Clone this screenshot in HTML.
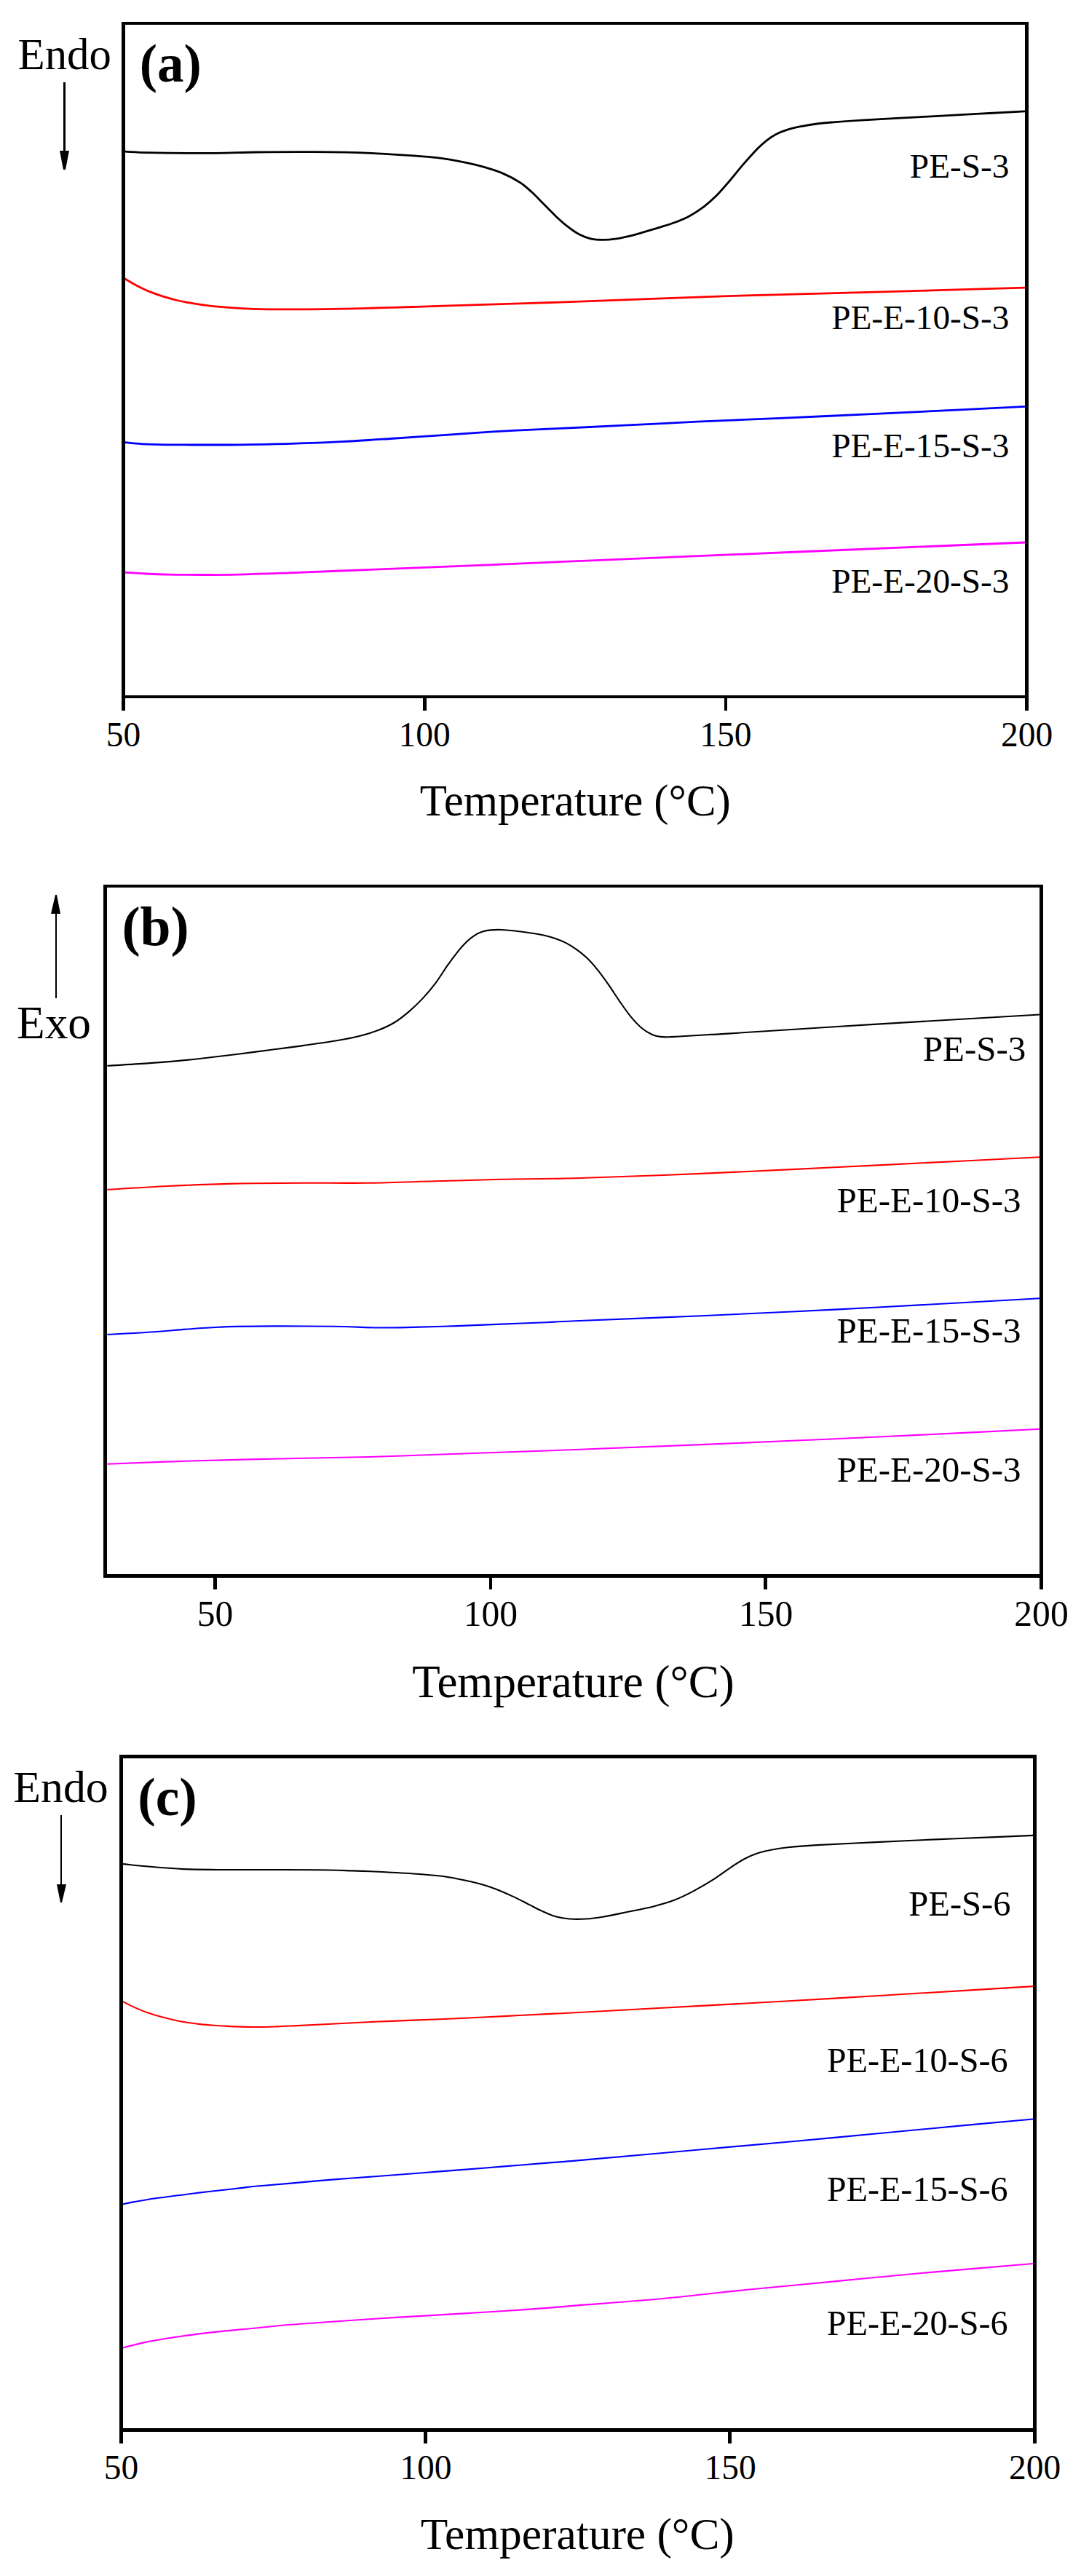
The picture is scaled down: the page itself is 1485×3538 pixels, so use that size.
<!DOCTYPE html>
<html><head><meta charset="utf-8"><title>DSC curves</title>
<style>
html,body{margin:0;padding:0;background:#fff}
svg{display:block}
text{font-family:"Liberation Serif",serif;fill:#000}
</style></head>
<body>
<svg width="1485" height="3538" viewBox="0 0 1485 3538">
<rect width="1485" height="3538" fill="#fff"/>
<path d="M172.0 208.2C176.7 208.4 190.3 209.3 200.0 209.6C209.7 209.9 214.0 210.1 230.0 210.2C246.0 210.3 275.3 210.5 296.0 210.3C316.7 210.1 331.3 209.3 354.0 209.0C376.7 208.7 406.1 208.5 432.0 208.7C457.9 208.9 488.4 209.5 509.7 210.3C531.0 211.1 544.8 212.3 560.0 213.4C575.2 214.5 587.1 215.0 600.7 216.7C614.3 218.4 630.5 221.4 641.4 223.6C652.2 225.8 657.7 227.3 665.8 229.7C673.9 232.1 682.1 234.4 690.2 237.9C698.4 241.4 707.9 246.5 714.7 250.9C721.5 255.3 725.6 259.4 731.0 264.3C736.4 269.2 741.8 275.2 747.2 280.6C752.6 286.0 758.1 291.8 763.5 296.9C768.9 302.0 774.4 306.9 779.8 311.1C785.2 315.3 790.6 319.2 796.0 322.1C801.4 325.0 806.9 327.0 812.3 328.2C817.7 329.4 823.2 329.4 828.6 329.4C834.0 329.4 838.8 329.1 844.9 328.2C851.0 327.3 858.5 325.7 865.3 324.1C872.1 322.5 878.8 320.4 885.6 318.4C892.4 316.4 899.2 314.4 906.0 312.3C912.8 310.2 919.5 308.4 926.3 305.8C933.1 303.2 939.9 300.6 946.7 296.9C953.5 293.2 960.9 288.4 967.0 283.8C973.1 279.2 977.7 275.1 983.3 269.6C988.9 264.1 994.2 257.8 1000.4 250.6C1006.6 243.4 1013.9 234.0 1020.7 226.2C1027.5 218.4 1035.6 209.4 1041.0 203.8C1046.4 198.2 1049.2 196.0 1053.3 192.8C1057.4 189.6 1060.8 187.1 1065.5 184.7C1070.2 182.2 1075.6 180.0 1081.7 178.1C1087.8 176.2 1095.2 174.7 1102.0 173.3C1108.8 172.0 1115.6 170.9 1122.4 170.0C1129.2 169.1 1132.6 168.8 1142.8 168.0C1153.0 167.2 1163.2 166.3 1183.5 165.1C1203.8 163.9 1237.8 162.1 1264.9 160.6C1292.0 159.1 1322.5 157.5 1346.3 156.2C1370.1 154.9 1397.7 153.4 1408.0 152.9" fill="none" stroke="#000" stroke-width="2.8" stroke-linejoin="round"/>
<path d="M170.2 382.0C173.1 383.7 181.8 389.1 187.8 392.2C193.8 395.3 200.1 398.4 206.3 400.9C212.5 403.4 218.6 405.5 224.8 407.4C231.0 409.3 237.1 411.0 243.3 412.5C249.5 414.0 255.6 415.1 261.8 416.2C268.0 417.3 274.1 418.2 280.3 419.0C286.5 419.8 292.6 420.6 298.8 421.2C305.0 421.8 311.1 422.3 317.3 422.7C323.5 423.1 328.9 423.5 335.8 423.8C342.7 424.1 349.0 424.4 358.9 424.6C368.8 424.8 380.7 424.9 395.0 424.9C409.3 424.9 429.8 424.9 444.9 424.7C460.0 424.5 472.0 424.2 485.6 423.9C499.2 423.6 512.7 423.1 526.3 422.7C539.9 422.3 554.7 421.9 567.0 421.5C579.3 421.1 562.8 421.6 600.0 420.4C637.2 419.2 723.4 416.7 790.0 414.4C856.6 412.1 931.0 408.8 999.6 406.6C1068.2 404.4 1133.5 403.1 1201.6 401.2C1269.7 399.3 1373.6 396.2 1408.0 395.2" fill="none" stroke="#ff0000" stroke-width="2.8" stroke-linejoin="round"/>
<path d="M170.7 607.5C174.8 607.9 185.9 609.2 195.5 609.8C205.1 610.3 214.4 610.6 228.5 610.8C242.6 611.0 262.9 611.0 280.0 611.0C297.1 611.0 311.2 611.1 331.1 610.8C351.0 610.5 376.8 610.1 399.6 609.4C422.4 608.7 445.2 607.9 468.0 606.7C490.8 605.6 513.7 604.0 536.5 602.5C559.3 601.0 582.2 599.3 605.0 597.8C627.8 596.2 650.6 594.6 673.4 593.2C696.2 591.8 719.1 590.7 741.9 589.6C764.7 588.5 783.9 587.8 810.3 586.5C836.6 585.2 875.5 583.3 900.0 582.1C924.5 580.9 918.4 581.0 957.6 579.2C996.8 577.4 1076.0 574.2 1135.2 571.5C1194.4 568.8 1267.4 565.4 1312.9 563.2C1358.4 561.0 1392.2 559.2 1408.0 558.4" fill="none" stroke="#0000ff" stroke-width="2.8" stroke-linejoin="round"/>
<path d="M170.7 786.2C174.8 786.5 185.4 787.2 195.5 787.7C205.6 788.2 217.2 788.9 231.0 789.2C244.8 789.5 262.6 789.5 278.4 789.5C294.2 789.5 306.1 789.7 325.8 789.2C345.5 788.8 365.2 788.0 396.8 786.8C428.4 785.6 475.7 783.7 515.2 782.1C554.7 780.5 586.1 779.4 633.6 777.4C681.1 775.4 670.9 775.7 800.0 770.3C929.1 764.9 1306.7 749.2 1408.0 745.0" fill="none" stroke="#ff00ff" stroke-width="2.8" stroke-linejoin="round"/>
<g fill="#000" shape-rendering="crispEdges">
<rect x="167" y="30" width="5" height="929"/>
<rect x="1408" y="30" width="5" height="929"/>
<rect x="167" y="30" width="1246" height="4"/>
<rect x="167" y="955" width="1246" height="4"/>
<rect x="167" y="955" width="5" height="21"/>
<rect x="581" y="955" width="5" height="21"/>
<rect x="995" y="955" width="4" height="21"/>
<rect x="1408" y="955" width="5" height="21"/>
</g>
<text x="169.5" y="1025" font-size="47.5" text-anchor="middle">50</text>
<text x="583.167" y="1025" font-size="47.5" text-anchor="middle">100</text>
<text x="996.833" y="1025" font-size="47.5" text-anchor="middle">150</text>
<text x="1410.5" y="1025" font-size="47.5" text-anchor="middle">200</text>
<text x="790.3" y="1120.2" font-size="60.8" text-anchor="middle">Temperature (°C)</text>
<text x="24.5" y="94.8" font-size="60.8" text-anchor="start">Endo</text>
<rect x="87" y="113" width="3" height="96" fill="#000" shape-rendering="crispEdges"/>
<path d="M82 207 L95 207 L90 233 L87 233 Z" fill="#000"/>
<text x="191.7" y="111.8" font-size="73" text-anchor="start" font-weight="bold">(a)</text>
<text x="1386.5" y="244" font-size="47.3" text-anchor="end">PE-S-3</text>
<text x="1386.5" y="451.8" font-size="47.3" text-anchor="end">PE-E-10-S-3</text>
<text x="1386.5" y="628" font-size="47.3" text-anchor="end">PE-E-15-S-3</text>
<text x="1386.5" y="814" font-size="47.3" text-anchor="end">PE-E-20-S-3</text>
<path d="M147.3 1463.8C153.8 1463.4 172.1 1462.4 186.3 1461.4C200.5 1460.5 217.1 1459.4 232.5 1458.1C247.9 1456.8 263.4 1455.2 278.8 1453.5C294.2 1451.8 309.6 1449.9 325.0 1448.0C340.4 1446.1 355.9 1444.0 371.3 1442.0C386.7 1440.0 402.1 1438.1 417.5 1435.9C432.9 1433.7 451.5 1431.1 463.8 1429.0C476.1 1426.9 482.2 1425.8 491.5 1423.5C500.8 1421.2 510.8 1418.3 519.3 1415.1C527.8 1411.8 535.5 1408.2 542.4 1404.0C549.3 1399.8 554.7 1395.3 560.9 1390.1C567.1 1384.9 573.2 1379.1 579.4 1372.6C585.6 1366.0 592.0 1358.6 597.9 1350.8C603.8 1343.0 609.5 1333.3 614.8 1325.9C620.1 1318.5 625.3 1311.6 629.6 1306.2C633.9 1300.8 637.0 1297.3 640.7 1293.7C644.4 1290.1 648.1 1287.2 651.8 1284.8C655.5 1282.4 659.2 1280.8 662.9 1279.6C666.6 1278.4 669.7 1277.8 674.0 1277.4C678.3 1277.0 683.2 1276.8 688.8 1277.0C694.3 1277.2 700.5 1277.8 707.3 1278.5C714.1 1279.2 722.7 1280.5 729.5 1281.5C736.3 1282.5 742.5 1283.6 748.0 1284.8C753.5 1286.0 757.9 1287.2 762.8 1288.9C767.7 1290.6 772.7 1292.5 777.6 1295.1C782.5 1297.7 787.5 1300.8 792.4 1304.4C797.3 1308.0 802.3 1311.8 807.2 1316.6C812.1 1321.4 817.1 1327.1 822.0 1333.3C826.9 1339.5 831.9 1346.5 836.8 1353.6C841.7 1360.7 846.7 1368.7 851.6 1375.8C856.5 1382.9 861.5 1390.2 866.4 1396.2C871.3 1402.2 876.3 1407.6 881.2 1411.7C886.1 1415.8 891.7 1419.0 896.0 1421.0C900.3 1423.0 903.4 1423.4 907.1 1423.9C910.8 1424.5 913.9 1424.4 918.2 1424.3C922.5 1424.2 924.4 1424.0 933.0 1423.5C941.6 1423.0 958.8 1421.9 970.0 1421.2C981.2 1420.5 970.0 1421.5 1000.0 1419.6C1030.0 1417.7 1099.9 1413.1 1149.8 1410.0C1199.7 1406.9 1253.2 1403.8 1299.6 1401.0C1346.0 1398.2 1406.6 1394.8 1428.0 1393.5" fill="none" stroke="#000" stroke-width="2.1" stroke-linejoin="round"/>
<path d="M147.3 1633.9C161.4 1633.1 202.3 1630.4 231.6 1629.0C260.9 1627.6 292.7 1626.3 323.2 1625.6C353.7 1624.9 384.2 1624.8 414.7 1624.7C445.2 1624.6 475.8 1625.1 506.3 1624.7C536.8 1624.3 567.4 1623.1 597.9 1622.3C628.4 1621.5 657.5 1620.5 689.5 1619.8C721.5 1619.1 744.4 1619.5 790.0 1618.2C835.6 1616.9 903.8 1614.4 963.2 1611.9C1022.6 1609.4 1085.2 1606.2 1146.3 1603.3C1207.3 1600.3 1282.5 1596.5 1329.5 1594.2C1376.5 1591.9 1411.6 1590.1 1428.0 1589.3" fill="none" stroke="#ff0000" stroke-width="2.1" stroke-linejoin="round"/>
<path d="M147.3 1832.8C156.2 1832.3 181.9 1831.3 201.0 1830.0C220.1 1828.7 245.6 1826.4 262.1 1825.2C278.6 1824.0 289.5 1823.3 300.0 1822.8C310.5 1822.2 311.0 1822.1 325.0 1821.9C339.0 1821.7 362.1 1821.4 384.2 1821.4C406.3 1821.4 435.1 1821.4 457.5 1821.7C479.9 1822.0 500.2 1823.3 518.5 1823.5C536.8 1823.7 549.1 1823.3 567.4 1822.9C585.7 1822.5 608.0 1821.8 628.4 1821.1C648.8 1820.4 669.1 1819.4 689.5 1818.6C709.9 1817.8 733.8 1816.9 750.5 1816.2C767.2 1815.5 754.5 1815.8 790.0 1814.3C825.5 1812.8 903.8 1809.8 963.2 1807.2C1022.6 1804.6 1085.2 1801.7 1146.3 1798.6C1207.3 1795.5 1282.5 1791.3 1329.5 1788.8C1376.5 1786.2 1411.6 1784.2 1428.0 1783.3" fill="none" stroke="#0000ff" stroke-width="2.1" stroke-linejoin="round"/>
<path d="M147.3 2010.8C166.4 2010.1 222.6 2007.7 262.1 2006.5C301.6 2005.3 343.5 2004.4 384.2 2003.5C424.9 2002.6 465.6 2002.1 506.3 2001.0C547.0 1999.9 581.1 1998.5 628.4 1996.8C675.7 1995.1 734.2 1993.1 790.0 1991.0C845.8 1988.9 903.8 1986.6 963.2 1984.1C1022.6 1981.6 1085.2 1979.0 1146.3 1976.2C1207.3 1973.5 1282.5 1969.8 1329.5 1967.6C1376.5 1965.3 1411.6 1963.5 1428.0 1962.7" fill="none" stroke="#ff00ff" stroke-width="2.1" stroke-linejoin="round"/>
<g fill="#000" shape-rendering="crispEdges">
<rect x="142" y="1215" width="5" height="952"/>
<rect x="1428" y="1215" width="5" height="952"/>
<rect x="142" y="1215" width="1291" height="4"/>
<rect x="142" y="2162" width="1291" height="5"/>
<rect x="293" y="2162" width="5" height="21"/>
<rect x="672" y="2162" width="4" height="21"/>
<rect x="1049" y="2162" width="5" height="21"/>
<rect x="1428" y="2162" width="5" height="21"/>
</g>
<text x="295.5" y="2233" font-size="49.6" text-anchor="middle">50</text>
<text x="673.833" y="2233" font-size="49.6" text-anchor="middle">100</text>
<text x="1052.17" y="2233" font-size="49.6" text-anchor="middle">150</text>
<text x="1430.5" y="2233" font-size="49.6" text-anchor="middle">200</text>
<text x="787.5" y="2331" font-size="63" text-anchor="middle">Temperature (°C)</text>
<text x="23" y="1426" font-size="63.3" text-anchor="start">Exo</text>
<rect x="76" y="1253" width="2" height="118" fill="#000" shape-rendering="crispEdges"/>
<path d="M70 1255 L83 1255 L78 1229 L76 1229 Z" fill="#000"/>
<text x="167.4" y="1297.8" font-size="75.5" text-anchor="start" font-weight="bold">(b)</text>
<text x="1409.3" y="1457" font-size="49" text-anchor="end">PE-S-3</text>
<text x="1402.6" y="1665" font-size="49" text-anchor="end">PE-E-10-S-3</text>
<text x="1402.6" y="1843.8" font-size="49" text-anchor="end">PE-E-15-S-3</text>
<text x="1402.6" y="2034.8" font-size="49" text-anchor="end">PE-E-20-S-3</text>
<path d="M169.0 2560.1C175.2 2560.7 192.4 2562.6 206.3 2563.8C220.2 2565.0 237.1 2566.4 252.5 2567.1C267.9 2567.8 279.5 2567.8 298.8 2568.0C318.1 2568.2 345.0 2568.0 368.1 2568.0C391.2 2568.0 418.2 2568.0 437.5 2568.2C456.8 2568.4 468.4 2568.9 483.8 2569.4C499.2 2569.9 514.6 2570.4 530.0 2571.2C545.4 2572.0 562.4 2572.9 576.3 2574.0C590.2 2575.1 601.4 2575.9 613.3 2577.7C625.2 2579.5 637.4 2582.1 647.8 2584.6C658.2 2587.1 666.2 2589.2 675.5 2592.5C684.8 2595.8 694.8 2600.2 703.3 2604.1C711.8 2607.9 719.5 2612.1 726.4 2615.6C733.3 2619.1 738.7 2622.1 744.9 2624.9C751.1 2627.7 757.2 2630.5 763.4 2632.3C769.6 2634.1 775.0 2635.0 781.9 2635.5C788.8 2636.0 797.3 2636.0 805.0 2635.5C812.7 2635.0 818.9 2634.2 828.1 2632.7C837.4 2631.2 848.9 2628.7 860.5 2626.3C872.1 2623.9 886.7 2621.1 897.5 2618.4C908.3 2615.7 916.0 2613.7 925.3 2610.1C934.5 2606.5 943.8 2602.0 953.0 2597.1C962.2 2592.2 972.3 2586.3 980.8 2580.9C989.3 2575.5 997.0 2569.4 1003.9 2564.8C1010.8 2560.2 1016.2 2556.4 1022.4 2553.2C1028.6 2549.9 1034.7 2547.4 1040.9 2545.3C1047.1 2543.2 1052.5 2542.0 1059.4 2540.7C1066.3 2539.3 1072.0 2538.3 1082.5 2537.2C1093.0 2536.1 1101.9 2535.3 1122.1 2534.1C1142.3 2532.9 1176.4 2531.4 1203.5 2530.1C1230.6 2528.8 1257.8 2527.6 1284.9 2526.4C1312.0 2525.2 1343.9 2524.0 1366.3 2523.1C1388.7 2522.2 1410.4 2521.3 1419.2 2520.9" fill="none" stroke="#000" stroke-width="2.1" stroke-linejoin="round"/>
<path d="M167.0 2748.1C169.6 2749.4 177.1 2753.5 182.8 2756.1C188.5 2758.7 195.1 2761.6 201.3 2763.8C207.5 2766.1 213.6 2767.9 219.8 2769.6C226.0 2771.3 232.1 2772.8 238.3 2774.2C244.5 2775.5 250.6 2776.7 256.8 2777.7C263.0 2778.7 269.1 2779.4 275.3 2780.1C281.5 2780.8 287.6 2781.3 293.8 2781.8C300.0 2782.3 306.1 2782.6 312.3 2782.9C318.5 2783.2 323.9 2783.4 330.8 2783.6C337.7 2783.8 345.7 2784.0 353.9 2784.0C362.1 2784.0 370.9 2783.7 380.0 2783.4C389.1 2783.1 396.0 2782.7 408.7 2782.1C421.4 2781.5 438.2 2780.6 456.0 2779.7C473.8 2778.8 495.5 2777.7 515.2 2776.8C534.9 2775.9 554.7 2775.2 574.4 2774.4C594.1 2773.6 613.9 2772.9 633.6 2772.0C653.3 2771.1 673.1 2770.1 692.8 2769.1C712.5 2768.1 735.8 2766.9 752.0 2766.1C768.2 2765.3 754.8 2766.1 790.0 2764.2C825.2 2762.3 903.8 2758.2 963.2 2754.9C1022.6 2751.6 1085.2 2748.2 1146.3 2744.6C1207.3 2741.0 1284.0 2736.3 1329.5 2733.6C1375.0 2730.8 1404.1 2729.0 1419.0 2728.1" fill="none" stroke="#ff0000" stroke-width="2.1" stroke-linejoin="round"/>
<path d="M167.0 3027.7C169.6 3027.1 177.1 3025.5 182.8 3024.4C188.5 3023.3 195.1 3022.2 201.3 3021.2C207.5 3020.2 213.6 3019.4 219.8 3018.5C226.0 3017.6 232.5 3016.8 238.3 3016.0C244.2 3015.2 248.7 3014.8 254.9 3014.0C261.1 3013.2 268.8 3012.2 275.3 3011.4C281.8 3010.6 287.6 3009.9 293.8 3009.2C300.0 3008.5 306.1 3007.9 312.3 3007.2C318.5 3006.5 323.9 3005.9 330.8 3005.1C337.7 3004.3 342.9 3003.5 353.9 3002.5C364.9 3001.5 379.8 3000.4 396.8 2998.9C413.8 2997.4 436.3 2995.2 456.0 2993.6C475.7 2992.0 495.5 2990.7 515.2 2989.2C534.9 2987.7 554.7 2986.2 574.4 2984.7C594.1 2983.2 613.9 2981.6 633.6 2980.1C653.3 2978.6 673.1 2977.0 692.8 2975.4C712.5 2973.8 735.8 2971.9 752.0 2970.6C768.2 2969.3 754.8 2970.6 790.0 2967.6C825.2 2964.6 903.8 2957.6 963.2 2952.3C1022.6 2947.0 1085.2 2941.5 1146.3 2935.9C1207.3 2930.3 1284.0 2922.8 1329.5 2918.6C1375.0 2914.4 1404.1 2911.8 1419.0 2910.5" fill="none" stroke="#0000ff" stroke-width="2.1" stroke-linejoin="round"/>
<path d="M167.0 3224.9C169.6 3224.2 177.1 3222.3 182.8 3220.9C188.5 3219.5 195.1 3217.9 201.3 3216.6C207.5 3215.3 213.6 3214.4 219.8 3213.3C226.0 3212.2 232.5 3211.2 238.3 3210.3C244.2 3209.4 248.7 3208.8 254.9 3207.9C261.1 3207.0 268.8 3205.9 275.3 3205.1C281.8 3204.3 287.6 3203.8 293.8 3203.1C300.0 3202.4 306.1 3201.7 312.3 3201.1C318.5 3200.5 323.9 3200.1 330.8 3199.4C337.7 3198.8 342.9 3198.3 353.9 3197.2C364.9 3196.1 379.8 3194.4 396.8 3193.0C413.8 3191.6 436.3 3190.2 456.0 3188.8C475.7 3187.4 495.5 3186.0 515.2 3184.7C534.9 3183.4 554.7 3182.3 574.4 3181.1C594.1 3179.9 613.9 3178.8 633.6 3177.6C653.3 3176.4 673.1 3175.3 692.8 3174.0C712.5 3172.7 735.8 3171.1 752.0 3169.9C768.2 3168.7 765.0 3168.6 790.0 3166.6C815.0 3164.6 863.1 3161.4 902.1 3157.8C941.1 3154.2 983.5 3149.1 1024.2 3145.0C1064.9 3140.9 1105.6 3137.3 1146.3 3133.4C1187.0 3129.5 1223.0 3125.9 1268.4 3121.8C1313.9 3117.7 1393.9 3111.1 1419.0 3109.0" fill="none" stroke="#ff00ff" stroke-width="2.1" stroke-linejoin="round"/>
<g fill="#000" shape-rendering="crispEdges">
<rect x="164" y="2410" width="5" height="930"/>
<rect x="1419" y="2410" width="5" height="930"/>
<rect x="164" y="2410" width="1260" height="5"/>
<rect x="164" y="3335" width="1260" height="5"/>
<rect x="164" y="3335" width="5" height="21"/>
<rect x="582" y="3335" width="5" height="21"/>
<rect x="1000" y="3335" width="5" height="21"/>
<rect x="1419" y="3335" width="5" height="21"/>
</g>
<text x="166.5" y="3404.7" font-size="47.5" text-anchor="middle">50</text>
<text x="584.833" y="3404.7" font-size="47.5" text-anchor="middle">100</text>
<text x="1003.17" y="3404.7" font-size="47.5" text-anchor="middle">150</text>
<text x="1421.5" y="3404.7" font-size="47.5" text-anchor="middle">200</text>
<text x="793.3" y="3501" font-size="61.4" text-anchor="middle">Temperature (°C)</text>
<text x="18.3" y="2475.2" font-size="61.8" text-anchor="start">Endo</text>
<rect x="83" y="2493" width="2" height="97" fill="#000" shape-rendering="crispEdges"/>
<path d="M78 2588 L91 2588 L85 2613 L83 2613 Z" fill="#000"/>
<text x="189.2" y="2492.5" font-size="73.5" text-anchor="start" font-weight="bold">(c)</text>
<text x="1388.6" y="2631" font-size="48.6" text-anchor="end">PE-S-6</text>
<text x="1384.6" y="2846.3" font-size="48.2" text-anchor="end">PE-E-10-S-6</text>
<text x="1384.6" y="3022.5" font-size="48.2" text-anchor="end">PE-E-15-S-6</text>
<text x="1384.6" y="3207.2" font-size="48.2" text-anchor="end">PE-E-20-S-6</text>
</svg>
</body></html>
